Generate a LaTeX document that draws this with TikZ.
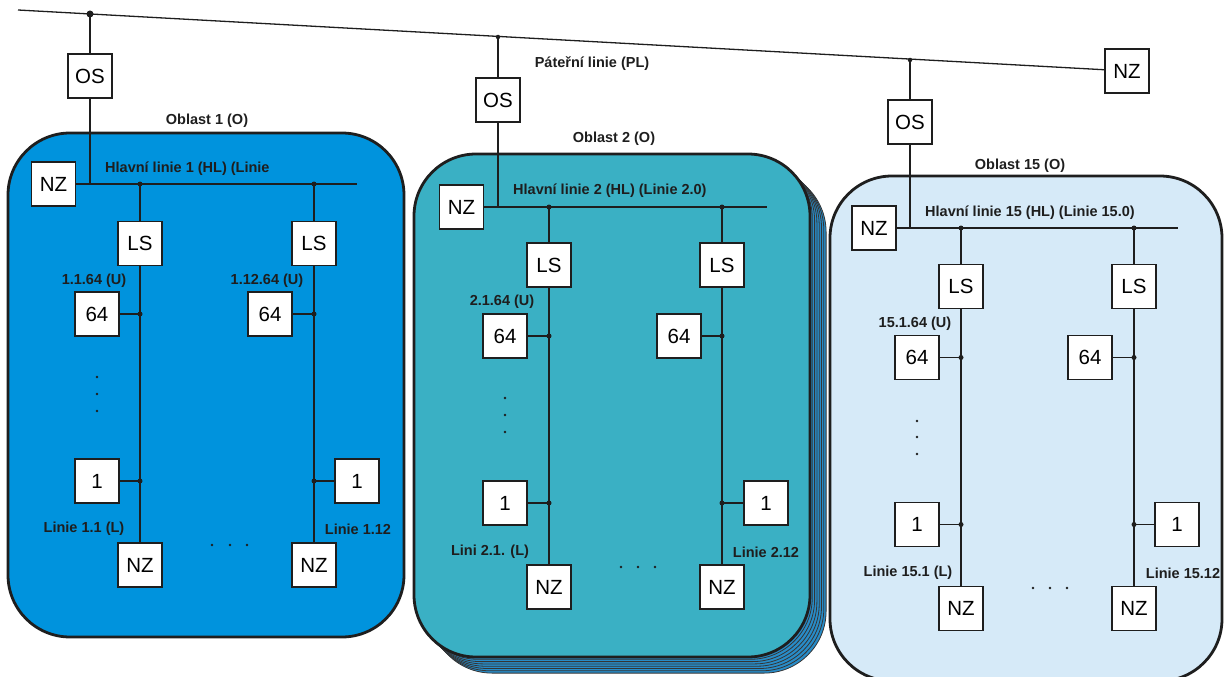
\documentclass[tikz,border=0pt]{standalone}
\usepackage{fontspec}
\setmainfont{Liberation Sans}
\definecolor{aone}{RGB}{0,147,221}
\definecolor{atwo}{RGB}{58,176,196}
\definecolor{afif}{RGB}{214,234,248}
\definecolor{astack}{RGB}{40,140,200}
\definecolor{ink}{RGB}{30,30,30}
\begin{document}
\begin{tikzpicture}[x=1pt,y=-1pt,
  box/.style={draw=ink, line width=1.4pt, fill=white, minimum width=44pt, minimum height=44pt, inner sep=0pt, font=\fontsize{20.5}{20.5}\selectfont},
  lbl/.style={font=\bfseries\fontsize{14.5}{14.5}\selectfont, inner sep=0pt, text=ink},
  wire/.style={draw=ink, line width=1.1pt},
  bb/.style={draw=ink, line width=1.3pt},
  jdot/.style={circle, fill=ink, inner sep=0pt, minimum size=5pt},
  sdot/.style={circle, fill=ink, inner sep=0pt, minimum size=2.6pt},
  area/.style={draw=ink, line width=2.8pt, rounded corners=62pt},
  stackl/.style={draw=ink!90, fill=astack, line width=0.8pt, rounded corners=62pt}
]
\useasboundingbox (0,0) rectangle (1226,677);
% ---------- areas ----------
\draw[area, fill=aone] (8,133) rectangle (404,637);
\foreach \k in {7,6,...,1} \draw[stackl, shift={(2.3*\k,2.3*\k)}] (414,154) rectangle (810,657);
\draw[area, fill=atwo] (414,154) rectangle (810,657);
\draw[area, fill=afif] (830,176) rectangle (1222,681);

% ---------- backbone ----------
\coordinate (plS) at (18,10);
\node[box] (nzT) at (1127,71) {NZ};
\draw[bb] (plS) -- (nzT);
\node[lbl] (plL) at (592,64) {Páteřní linie (PL)};
\node[jdot, minimum size=7pt] (j1) at (90,14) {};
\node[jdot, minimum size=4.5pt] (j2) at (498,37) {};
\node[jdot, minimum size=4.5pt] (j3) at (910,60) {};
\node[box] (os1) at (90,76) {OS};
\node[box] (os2) at (498,100) {OS};
\node[box] (os3) at (910,122) {OS};
\coordinate (h1c) at (90,184);
\coordinate (h2c) at (498,207);
\coordinate (h3c) at (910,228);
\draw[wire] (j1.center) -- (os1);
\draw[wire] (os1) -- (h1c);
\draw[wire] (j2.center) -- (os2);
\draw[wire] (os2) -- (h2c);
\draw[wire] (j3.center) -- (os3);
\draw[wire] (os3) -- (h3c);

% ---------- area 1 ----------
\node[lbl] (a1t) at (207,121) {Oblast 1 (O)};
\node[lbl, anchor=west] (a1hl) at (105,169) {Hlavní linie 1 (HL) (Linie};
\node[box] (a1nz) at (53.5,184) {NZ};
\coordinate (a1end) at (357,184);
\draw[wire] (a1nz) -- (a1end);
\node[jdot] (a1p) at (140,184) {};
\node[jdot] (a1q) at (314,184) {};
\node[box] (a1lsp) at (140,243.5) {LS};
\node[box] (a1lsq) at (314,243.5) {LS};
\node[box] (a1nzp) at (140,565) {NZ};
\node[box] (a1nzq) at (314,565) {NZ};
\draw[wire] (a1p.center) -- (a1lsp);
\draw[wire] (a1q.center) -- (a1lsq);
\draw[wire] (a1lsp) -- (a1nzp);
\draw[wire] (a1lsq) -- (a1nzq);
\node[lbl] (a1u1) at (94,281) {1.1.64 (U)};
\node[lbl] (a1u2) at (267,281) {1.12.64 (U)};
\node[box] (a1sp) at (97,314) {64};
\node[box] (a1sq) at (270,314) {64};
\node[jdot] (a1dsp) at (140,314) {};
\node[jdot] (a1dsq) at (314,314) {};
\draw[wire] (a1sp) -- (a1dsp.center);
\draw[wire] (a1sq) -- (a1dsq.center);
\node[box] (a1op) at (97,481) {1};
\node[box] (a1oq) at (357,481) {1};
\node[jdot] (a1dop) at (140,481) {};
\node[jdot] (a1doq) at (314,481) {};
\draw[wire] (a1op) -- (a1dop.center);
\draw[wire] (a1oq) -- (a1doq.center);
\node[sdot] (a1v1) at (97,377) {};
\node[sdot] (a1v2) at (97,394) {};
\node[sdot] (a1v3) at (97,411) {};
\node[sdot] (a1h1) at (212,545) {};
\node[sdot] (a1h2) at (230,545) {};
\node[sdot] (a1h3) at (247,545) {};
\node[lbl] (a1lp) at (84,529) {Linie 1.1 (L)};
\node[lbl] (a1lq) at (358,529) {Linie 1.12};

% ---------- area 2 ----------
\node[lbl] (a2t) at (614,139) {Oblast 2 (O)};
\node[lbl, anchor=west] (a2hl) at (513,191) {Hlavní linie 2 (HL) (Linie 2.0)};
\node[box] (a2nz) at (461.5,207) {NZ};
\coordinate (a2end) at (767,207);
\draw[wire] (a2nz) -- (a2end);
\node[jdot] (a2p) at (549,207) {};
\node[jdot] (a2q) at (722,207) {};
\node[box] (a2lsp) at (549,265) {LS};
\node[box] (a2lsq) at (722,265) {LS};
\node[box] (a2nzp) at (549,587) {NZ};
\node[box] (a2nzq) at (722,587) {NZ};
\draw[wire] (a2p.center) -- (a2lsp);
\draw[wire] (a2q.center) -- (a2lsq);
\draw[wire] (a2lsp) -- (a2nzp);
\draw[wire] (a2lsq) -- (a2nzq);
\node[lbl] (a2u1) at (502,302) {2.1.64 (U)};
\node[box] (a2sp) at (505,336) {64};
\node[box] (a2sq) at (679,336) {64};
\node[jdot] (a2dsp) at (549,336) {};
\node[jdot] (a2dsq) at (722,336) {};
\draw[wire] (a2sp) -- (a2dsp.center);
\draw[wire] (a2sq) -- (a2dsq.center);
\node[box] (a2op) at (505,503) {1};
\node[box] (a2oq) at (766,503) {1};
\node[jdot] (a2dop) at (549,503) {};
\node[jdot] (a2doq) at (722,503) {};
\draw[wire] (a2op) -- (a2dop.center);
\draw[wire] (a2oq) -- (a2doq.center);
\node[sdot] (a2v1) at (505,398) {};
\node[sdot] (a2v2) at (505,415) {};
\node[sdot] (a2v3) at (505,432) {};
\node[sdot] (a2h1) at (621,567) {};
\node[sdot] (a2h2) at (638,567) {};
\node[sdot] (a2h3) at (655,567) {};
\node[lbl] (a2lp) at (490,552) {Lini 2.1. (L)};
\node[lbl] (a2lq) at (766,552) {Linie 2.12};

% ---------- area 15 ----------
\node[lbl] (a3t) at (1020,166) {Oblast 15 (O)};
\node[lbl, anchor=west] (a3hl) at (925,213) {Hlavní linie 15 (HL) (Linie 15.0)};
\node[box] (a3nz) at (874,228) {NZ};
\coordinate (a3end) at (1178,228);
\draw[wire] (a3nz) -- (a3end);
\node[jdot] (a3p) at (961,228) {};
\node[jdot] (a3q) at (1134,228) {};
\node[box] (a3lsp) at (961,286.5) {LS};
\node[box] (a3lsq) at (1134,286.5) {LS};
\node[box] (a3nzp) at (961,608.5) {NZ};
\node[box] (a3nzq) at (1134,608.5) {NZ};
\draw[wire] (a3p.center) -- (a3lsp);
\draw[wire] (a3q.center) -- (a3lsq);
\draw[wire] (a3lsp) -- (a3nzp);
\draw[wire] (a3lsq) -- (a3nzq);
\node[lbl] (a3u1) at (915,324) {15.1.64 (U)};
\node[box] (a3sp) at (917,357.5) {64};
\node[box] (a3sq) at (1090,357.5) {64};
\node[jdot] (a3dsp) at (961,357.5) {};
\node[jdot] (a3dsq) at (1134,357.5) {};
\draw[wire] (a3sp) -- (a3dsp.center);
\draw[wire] (a3sq) -- (a3dsq.center);
\node[box] (a3op) at (917,524.5) {1};
\node[box] (a3oq) at (1177,524.5) {1};
\node[jdot] (a3dop) at (961,524.5) {};
\node[jdot] (a3doq) at (1134,524.5) {};
\draw[wire] (a3op) -- (a3dop.center);
\draw[wire] (a3oq) -- (a3doq.center);
\node[sdot] (a3v1) at (917,421) {};
\node[sdot] (a3v2) at (917,437) {};
\node[sdot] (a3v3) at (917,454) {};
\node[sdot] (a3h1) at (1033,588) {};
\node[sdot] (a3h2) at (1050,588) {};
\node[sdot] (a3h3) at (1067,588) {};
\node[lbl] (a3lp) at (908,573) {Linie 15.1 (L)};
\node[lbl] (a3lq) at (1183,573) {Linie 15.12};
\end{tikzpicture}
\end{document}
